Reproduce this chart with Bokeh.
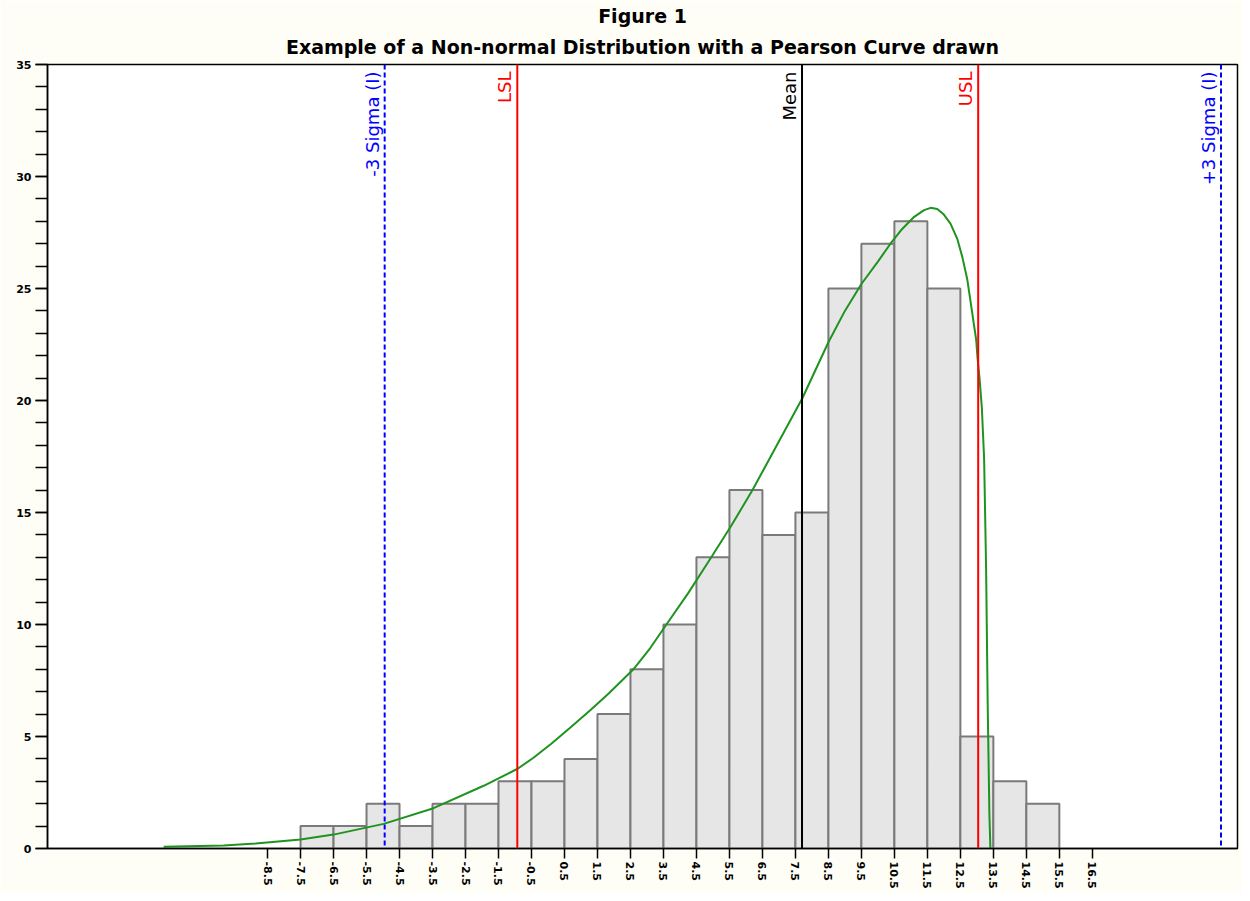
import math
from bokeh.plotting import figure
from bokeh.models import Range1d, FixedTicker, SingleIntervalTicker, Title, Span
from bokeh.core.properties import value
from bokeh.embed import file_html
from bokeh.resources import INLINE

# ---- data ----
bin_left = [-7.5, -6.5, -5.5, -4.5, -3.5, -2.5, -1.5, -0.5, 0.5, 1.5, 2.5, 3.5,
            4.5, 5.5, 6.5, 7.5, 8.5, 9.5, 10.5, 11.5, 12.5, 13.5, 14.5]
bin_right = [-6.5, -5.5, -4.5, -3.5, -2.5, -1.5, -0.5, 0.5, 1.5, 2.5, 3.5, 4.5,
             5.5, 6.5, 7.5, 8.5, 9.5, 10.5, 11.5, 12.5, 13.5, 14.5, 15.5]
counts = [1, 1, 2, 1, 2, 2, 3, 3, 4, 6, 8, 10, 13, 16, 14, 15, 25, 27, 28, 25, 5, 3, 2]

curve_x = [-11.65, -9.83, -8.86, -7.5, -6.5, -4.98, -3.47, -1.95, -0.92, -0.44,
           0.1, 0.68, 1.29, 1.84, 2.59, 3.1, 3.59, 4.25, 4.95, 5.55, 6.2, 6.9,
           7.71, 8.5, 9.0, 9.5, 10.0, 10.38, 10.7, 11.1, 11.4, 11.6, 11.8,
           12.0, 12.2, 12.41, 12.56, 12.71, 12.8, 12.89, 12.98, 13.02, 13.08,
           13.15, 13.22, 13.28, 13.33, 13.38, 13.41]
curve_y = [0.08, 0.13, 0.22, 0.40, 0.62, 1.1, 1.8, 2.8, 3.56, 4.05,
           4.68, 5.4, 6.18, 6.92, 8.0, 8.95, 10.0, 11.4, 13.0, 14.4, 16.0, 17.9,
           20.1, 22.6, 24.0, 25.2, 26.2, 27.0, 27.6, 28.2, 28.5, 28.6, 28.55,
           28.3, 27.9, 27.2, 26.4, 25.4, 24.5, 23.6, 22.7, 21.9, 21.0,
           19.7, 17.4, 12.5, 6.25, 1.5, 0.0]

ref_names = ["-3 Sigma (I)", "LSL", "Mean", "USL", "+3 Sigma (I)"]
ref_values = [-4.95, -0.93, 7.70, 13.04, 20.40]
ref_colors = ["#0000ff", "#ff0000", "#000000", "#ff0000", "#0000ff"]
ref_dash = ["5 3", "solid", "solid", "solid", "5 3"]

x_ticks = [-8.5, -7.5, -6.5, -5.5, -4.5, -3.5, -2.5, -1.5, -0.5, 0.5, 1.5, 2.5, 3.5,
           4.5, 5.5, 6.5, 7.5, 8.5, 9.5, 10.5, 11.5, 12.5, 13.5, 14.5, 15.5, 16.5]
x_tick_labels = ["-8.5", "-7.5", "-6.5", "-5.5", "-4.5", "-3.5", "-2.5", "-1.5", "-0.5",
                 "0.5", "1.5", "2.5", "3.5", "4.5", "5.5", "6.5", "7.5", "8.5", "9.5",
                 "10.5", "11.5", "12.5", "13.5", "14.5", "15.5", "16.5"]

title_top = "Figure 1"
title_main = "Example of a Non-normal Distribution with a Pearson Curve drawn"

# ---- figure ----
p = figure(width=1242, height=893, output_backend="svg", toolbar_location=None,
           x_range=Range1d(-15.17, 20.9), y_range=Range1d(0, 35),
           min_border_left=47, min_border_right=5, min_border_top=64, min_border_bottom=45)
p.background_fill_color = "white"
p.border_fill_color = "#fffef6"
p.outline_line_color = "black"
p.outline_line_width = 1.5
p.xgrid.visible = False
p.ygrid.visible = False

p.title.text = title_top
p.title.align = "center"
p.title.text_font = "DejaVu Sans"
p.title.text_font_size = "19px"
p.title.text_font_style = "bold"
p.title.text_color = "black"
p.title.standoff = 2
p.add_layout(Title(text=title_main, align="center", text_font="DejaVu Sans",
                   text_font_size="19px", text_font_style="bold", text_color="black",
                   standoff=13), "above")

# bars
p.quad(left=bin_left, right=bin_right, bottom=0, top=counts,
       fill_color="#e6e6e6", line_color="#7a7a7a", line_width=2)

# reference lines
for v, c, d in zip(ref_values, ref_colors, ref_dash):
    p.add_layout(Span(location=v, dimension="height", line_color=c,
                      line_dash=d, line_width=2))
p.text(x=ref_values, y=[35] * len(ref_values), text=ref_names, angle=math.pi / 2,
       text_align="right", text_baseline="bottom", x_offset=-2, y_offset=7,
       text_color=ref_colors, text_font=value("DejaVu Sans"), text_font_size="18px")

# pearson curve
p.line(curve_x, curve_y, line_color="#1f931f", line_width=2)

# axes
xa = p.xaxis[0]
xa.ticker = FixedTicker(ticks=x_ticks)
xa.major_label_overrides = dict(zip(x_ticks, x_tick_labels))
xa.major_label_orientation = "vertical"
xa.major_tick_out = 10
xa.major_tick_in = 0
xa.minor_tick_out = 0
xa.minor_tick_in = 0
xa.axis_line_color = "black"
xa.axis_line_width = 1.5
xa.major_tick_line_color = "black"
xa.major_tick_line_width = 1.5
xa.major_label_text_font = "DejaVu Sans"
xa.major_label_text_font_size = "11px"
xa.major_label_text_font_style = "bold"
xa.major_label_text_color = "black"
xa.major_label_standoff = 3

ya = p.yaxis[0]
ya.ticker = SingleIntervalTicker(interval=5, num_minor_ticks=5)
ya.major_tick_out = 12
ya.major_tick_in = 0
ya.minor_tick_out = 12
ya.minor_tick_in = 0
ya.axis_line_color = "black"
ya.axis_line_width = 1.5
ya.major_tick_line_color = "black"
ya.minor_tick_line_color = "black"
ya.major_tick_line_width = 1.5
ya.minor_tick_line_width = 1.5
ya.major_label_text_font = "DejaVu Sans"
ya.major_label_text_font_size = "11px"
ya.major_label_text_font_style = "bold"
ya.major_label_text_color = "black"
ya.major_label_standoff = 4

open("out.html", "w").write(file_html(p, INLINE))
